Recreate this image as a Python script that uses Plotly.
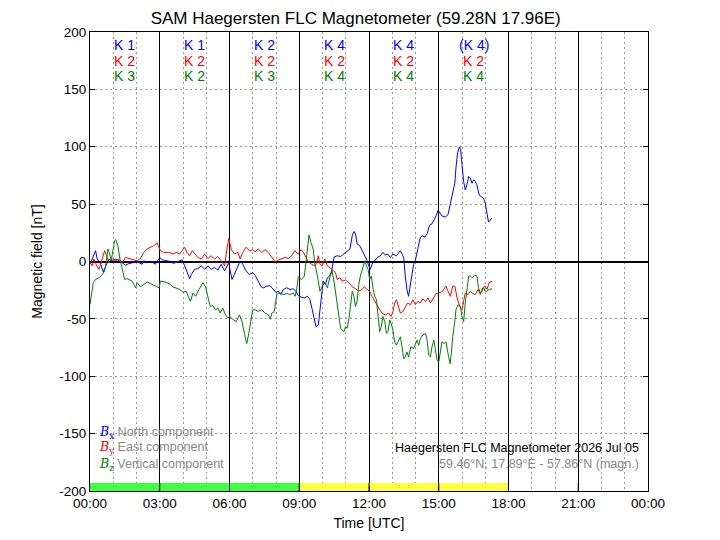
import plotly.graph_objects as go

# ---------------- data ----------------
title_text = "SAM Haegersten FLC Magnetometer (59.28N 17.96E)"

# North component Bx (hours UTC, nT)
tx = [0.00,0.24,0.31,0.46,0.57,0.67,0.81,0.96,1.10,1.31,1.53,1.67,1.89,2.03,2.24,2.31,2.46,2.67,2.81,2.89,
      3.00,3.10,3.31,3.46,3.57,3.71,3.86,3.97,4.07,4.17,4.29,4.36,4.50,4.64,4.79,4.93,5.07,5.21,5.36,5.50,
      5.64,5.79,5.89,5.97,6.03,6.11,6.21,6.36,6.46,6.57,6.71,6.86,7.00,7.10,7.24,7.36,7.46,7.60,7.74,7.89,
      7.99,8.10,8.21,8.31,8.46,8.60,8.74,8.86,8.96,9.07,9.21,9.36,9.46,9.56,9.65,9.72,9.82,9.89,9.96,10.03,
      10.13,10.21,10.31,10.39,10.50,10.63,10.78,10.92,11.06,11.18,11.28,11.35,11.42,11.49,11.60,11.70,11.80,11.89,11.99,12.06,
      12.13,12.23,12.35,12.49,12.60,12.70,12.80,12.92,13.03,13.18,13.28,13.35,13.42,13.49,13.56,13.63,13.70,13.78,13.85,13.92,
      13.99,14.07,14.14,14.21,14.29,14.40,14.50,14.60,14.71,14.83,14.90,14.97,15.04,15.14,15.29,15.40,15.50,15.60,15.69,15.74,
      15.81,15.89,15.94,16.00,16.07,16.14,16.21,16.29,16.36,16.43,16.50,16.57,16.64,16.74,16.83,16.93,17.00,17.07,17.14,17.21,17.29]
bx = [-2.4,9.4,2.1,-2.4,-9.1,-3.8,2.1,0.6,2.1,0.0,-3.2,-1.8,-0.9,-0.3,-2.4,0.6,-0.9,-0.3,-2.4,0.6,
      3.5,1.5,0.6,0.0,-1.5,-0.9,0.6,1.5,-3.8,-9.7,-15.0,-11.2,-6.8,-6.2,-3.8,-6.8,-3.8,-6.8,-5.3,-7.4,
      -2.4,-8.2,-3.8,-0.9,-8.2,-15.6,-11.2,-3.8,0.6,-2.4,-8.2,-11.2,-9.7,-12.0,-17.0,-22.0,-23.0,-21.5,-21.0,-24.4,
      -26.8,-25.9,-28.8,-24.4,-22.9,-24.4,-23.8,-25.9,-29.7,-30.9,-31.8,-30.3,-33.2,-42.0,-52.4,-56.8,-55.3,-42.0,-24.4,-17.0,
      -20.0,-14.1,-12.6,-8.2,4.0,5.0,4.4,6.5,9.4,10.9,22.6,26.2,24.1,15.3,13.8,9.4,6.5,2.1,-3.8,-6.8,
      -2.4,0.6,3.5,5.0,7.9,5.6,6.5,3.5,6.5,5.0,7.9,9.4,6.5,3.5,-12.6,-24.4,-30.3,-20.0,-8.2,-2.4,
      0.6,9.4,16.8,21.2,22.6,21.2,24.1,31.5,32.9,37.4,40.3,44.7,42.6,39.7,38.8,40.9,50.6,60.9,68.2,81.5,
      94.7,100.0,97.6,84.4,69.7,62.4,66.8,74.1,72.6,68.2,71.2,69.7,66.8,57.9,56.5,55.0,50.6,43.2,34.4,35.9,37.9]

# East component By
ty = [0.00,0.10,0.17,0.29,0.39,0.53,0.63,0.71,0.81,0.96,1.10,1.24,1.39,1.53,1.67,1.89,2.03,2.17,2.31,2.46,
      2.60,2.74,2.89,2.96,3.03,3.17,3.39,3.57,3.71,3.86,3.97,4.07,4.17,4.29,4.40,4.50,4.64,4.79,4.93,5.07,
      5.21,5.36,5.50,5.64,5.79,5.89,5.97,6.07,6.21,6.36,6.46,6.57,6.71,6.86,7.00,7.10,7.24,7.39,7.53,7.67,
      7.81,7.96,8.10,8.24,8.39,8.53,8.67,8.81,8.96,9.07,9.17,9.29,9.39,9.53,9.67,9.75,9.82,9.89,9.99,10.10,
      10.21,10.31,10.41,10.56,10.63,10.75,10.85,10.99,11.13,11.28,11.42,11.56,11.70,11.80,11.92,12.03,12.13,12.28,12.42,12.56,
      12.70,12.85,12.95,13.03,13.10,13.18,13.28,13.35,13.46,13.56,13.66,13.78,13.89,13.99,14.11,14.21,14.31,14.43,14.54,14.64,
      14.79,14.89,15.00,15.11,15.21,15.31,15.40,15.50,15.60,15.69,15.79,15.86,15.93,16.00,16.07,16.14,16.26,16.36,16.46,16.57,
      16.69,16.79,16.89,17.00,17.07,17.17,17.29]
by = [-0.9,-3.8,2.1,-3.8,-6.8,2.1,9.4,5.0,-0.9,2.1,0.6,2.1,-0.9,3.5,2.6,1.5,0.6,2.6,7.9,10.9,
      12.4,13.8,16.2,12.4,9.4,7.9,7.9,6.5,7.9,6.5,9.4,12.4,7.9,5.0,9.4,6.5,3.5,2.1,6.5,2.6,
      5.0,2.1,4.4,0.6,-3.8,10.9,20.3,10.9,6.5,7.9,2.1,7.9,12.4,9.4,10.3,8.5,10.9,7.9,10.3,7.9,
      3.5,-0.3,1.2,2.1,3.5,2.6,5.0,9.4,6.5,10.3,8.5,3.5,-0.3,-2.4,-3.8,-0.9,5.0,-2.4,-3.8,2.1,
      -3.8,-5.3,-6.8,-9.7,-15.6,-14.1,-17.1,-16.2,-18.5,-22.1,-23.8,-25.9,-24.4,-22.1,-24.4,-25.9,-30.3,-36.2,-40.6,-45.0,
      -46.5,-45.0,-47.9,-43.5,-36.2,-33.2,-39.1,-45.0,-43.5,-39.1,-36.2,-37.6,-33.2,-37.6,-34.7,-36.2,-32.6,-34.7,-31.8,-36.2,
      -31.8,-27.9,-27.4,-26.8,-24.4,-21.5,-25.9,-30.3,-21.5,-21.5,-31.8,-36.2,-40.6,-42.1,-33.2,-27.4,-28.8,-25.9,-27.9,-28.8,
      -24.4,-28.8,-22.9,-21.5,-24.4,-18.5,-17.1]

# Vertical component Bz
tz = [0.00,0.06,0.14,0.24,0.39,0.53,0.63,0.71,0.77,0.83,0.91,1.00,1.06,1.11,1.20,1.29,1.39,1.49,1.60,1.81,
      1.96,2.03,2.17,2.31,2.46,2.60,2.74,2.89,2.97,3.03,3.24,3.46,3.57,3.71,3.86,4.00,4.14,4.22,4.32,4.43,
      4.54,4.69,4.79,4.86,4.97,5.07,5.17,5.29,5.40,5.50,5.60,5.71,5.83,5.93,6.00,6.14,6.29,6.43,6.54,6.64,
      6.74,6.83,6.93,7.00,7.10,7.24,7.39,7.53,7.67,7.75,7.82,7.93,8.03,8.17,8.32,8.46,8.60,8.75,8.82,8.89,
      8.96,9.03,9.10,9.22,9.32,9.42,9.50,9.60,9.67,9.77,9.89,9.99,10.10,10.21,10.31,10.41,10.50,10.56,10.63,10.70,
      10.78,10.85,10.92,10.99,11.06,11.13,11.20,11.28,11.35,11.42,11.49,11.56,11.63,11.70,11.78,11.82,11.89,11.96,12.03,12.10,
      12.18,12.25,12.32,12.39,12.46,12.53,12.60,12.68,12.75,12.82,12.89,12.95,13.03,13.10,13.18,13.28,13.35,13.42,13.49,13.56,
      13.63,13.70,13.80,13.92,13.99,14.07,14.14,14.21,14.31,14.43,14.50,14.57,14.64,14.71,14.79,14.86,14.93,15.00,15.07,15.14,
      15.24,15.31,15.40,15.49,15.54,15.60,15.69,15.74,15.83,15.93,16.00,16.07,16.14,16.21,16.29,16.36,16.43,16.54,16.64,16.71,
      16.79,16.86,16.93,17.00,17.07,17.17,17.29]
bz = [-37.6,-30.3,-18.5,-15.6,-14.1,-11.2,-8.2,0.6,10.9,7.9,0.6,10.9,18.2,19.1,13.8,2.1,-6.8,-15.6,-15.0,-17.1,
      -22.9,-18.5,-22.1,-20.0,-17.9,-19.1,-20.9,-22.1,-22.9,-17.1,-17.9,-20.0,-22.1,-22.9,-24.4,-26.8,-25.9,-30.3,-34.7,-27.4,
      -30.3,-24.4,-20.9,-18.5,-22.1,-30.3,-39.1,-38.5,-42.1,-40.6,-45.0,-40.6,-46.5,-49.4,-47.9,-50.3,-52.4,-46.5,-52.4,-62.6,
      -71.5,-62.6,-49.4,-42.1,-42.1,-43.5,-42.1,-45.0,-46.5,-50.3,-45.0,-43.5,-28.8,-27.4,-28.8,-27.9,-28.8,-27.4,-30.3,-24.4,
      -13.2,-15.0,-15.6,-12.6,5.0,23.2,16.8,10.9,-2.4,-11.2,-25.9,-21.5,-18.5,-22.9,-14.1,-8.2,-18.0,-25.9,-36.2,-47.9,
      -58.2,-59.7,-61.2,-56.8,-58.2,-50.9,-39.1,-25.9,-30.3,-39.1,-34.7,-20.0,-12.6,-6.8,-0.9,0.6,-3.8,-6.8,-15.6,-12.6,
      -24.4,-30.3,-33.2,-46.5,-61.2,-56.8,-47.9,-52.4,-62.6,-61.2,-50.9,-53.8,-59.7,-70.0,-72.9,-68.5,-65.6,-74.4,-84.7,-83.2,
      -78.8,-83.2,-74.4,-75.9,-71.5,-68.5,-72.9,-67.1,-64.1,-62.6,-68.5,-81.8,-83.2,-74.4,-68.5,-75.9,-86.2,-87.6,-77.4,-70.0,
      -71.5,-70.0,-80.3,-89.1,-80.3,-65.6,-52.4,-42.1,-37.6,-39.1,-47.9,-52.4,-36.2,-22.9,-12.6,-12.6,-14.1,-12.1,-12.6,-22.9,
      -27.4,-25.9,-22.9,-25.9,-25.9,-24.4,-23.8]

# 3-hour blocks: K indices and activity bar
block_start = [0, 3, 6, 9, 12, 15]
k_x = ["K 1", "K 1", "K 2", "K 4", "K 4", "(K 4)"]
k_y = ["K 2", "K 2", "K 2", "K 2", "K 2", "K 2"]
k_z = ["K 3", "K 2", "K 3", "K 4", "K 4", "K 4"]
bar_colors = ["#40ff40", "#40ff40", "#40ff40", "#ffff40", "#ffff40", "#ffff40"]
bar_height = 7

x_tickvals = [0, 3, 6, 9, 12, 15, 18, 21, 24]
x_ticktext = ["00:00", "03:00", "06:00", "09:00", "12:00", "15:00", "18:00", "21:00", "00:00"]
y_tickvals = [-200, -150, -100, -50, 0, 50, 100, 150, 200]
y_ticktext = ["-200", "-150", "-100", "-50", "0", "50", "100", "150", "200"]

legend_names = ["North component", "East component", "Vertical component"]
legend_subs = ["x", "y", "z"]
info_line1 = "Haegersten FLC Magnetometer 2026 Jul 05"
info_line2 = "59.46°N, 17.89°E - 57.86°N (magn.)"

# ---------------- styles ----------------
c_x, c_y, c_z = "#0000ff", "#ff0000", "#008000"
font_main = "Liberation Sans, Arial, sans-serif"
grid_dot = "2px,3px"

fig = go.Figure()

fig.add_trace(go.Bar(x=block_start, y=[bar_height] * len(block_start), base=-200,
                     width=3, offset=0, marker=dict(color=bar_colors, line=dict(width=0)),
                     hoverinfo="skip", showlegend=False))

for t, v, c in [(tx, bx, c_x), (ty, by, c_y), (tz, bz, c_z)]:
    fig.add_trace(go.Scatter(x=t, y=v, mode="lines", line=dict(color=c, width=1),
                             showlegend=False, hoverinfo="skip"))

# vertical 3-hour lines drawn over the activity bar
for h in x_tickvals[1:-1]:
    fig.add_shape(type="line", xref="x", yref="y", x0=h, x1=h, y0=-200, y1=-200 + bar_height,
                  line=dict(color="black", width=1), layer="above")

# K index labels
rows = [(k_x, c_x, 0.972), (k_y, c_y, 0.937), (k_z, c_z, 0.904)]
for labels, col, yp in rows:
    for s, lab in zip(block_start, labels):
        fig.add_annotation(x=s + 1.5, y=yp, xref="x", yref="paper", text=lab, showarrow=False,
                           font=dict(color=col, size=14, family=font_main), xanchor="center", yanchor="middle")

# component legend (lower left)
for i, (name, sub, col) in enumerate(zip(legend_names, legend_subs, [c_x, c_y, c_z])):
    yp = [0.1285, 0.0937, 0.0588][i]
    txt = (f"<span style='font-family:DejaVu Serif;color:{col}'><i>B</i><sub>{sub}</sub></span>"
           f"<span style='color:#888888'> {name}</span>")
    fig.add_annotation(x=0.012, y=yp, xref="paper", yref="paper", text=txt, showarrow=False,
                       xanchor="left", yanchor="middle", font=dict(size=12.5, family=font_main))

fig.add_annotation(x=0.988, y=0.0937, xref="paper", yref="paper", text=info_line1, showarrow=False,
                   xanchor="right", yanchor="middle", font=dict(size=12.5, color="black", family=font_main))
fig.add_annotation(x=0.988, y=0.0588, xref="paper", yref="paper", text=info_line2, showarrow=False,
                   xanchor="right", yanchor="middle", font=dict(size=12.5, color="#888888", family=font_main))

fig.update_layout(
    width=720, height=540,
    margin=dict(l=90, r=72, t=32, b=49),
    paper_bgcolor="white", plot_bgcolor="white",
    font=dict(family=font_main, size=13, color="black"),
    title=dict(text=title_text, x=0.494, xanchor="center", y=0.967, yanchor="middle",
               font=dict(size=17, color="black", family=font_main)),
    barmode="overlay",
    showlegend=False,
)
fig.update_xaxes(range=[0, 24], tickvals=x_tickvals, ticktext=x_ticktext,
                 showgrid=True, gridcolor="black", gridwidth=1,
                 minor=dict(dtick=1, tick0=0, showgrid=True, gridcolor="#999999", griddash=grid_dot, gridwidth=1),
                 showline=True, linecolor="black", linewidth=1, mirror="ticks",
                 ticks="inside", ticklen=5, tickcolor="black",
                 title=dict(text="Time [UTC]", font=dict(size=14), standoff=7),
                 zeroline=False, tickfont=dict(size=13.5))
fig.update_yaxes(range=[-200, 200], tickvals=y_tickvals, ticktext=y_ticktext,
                 showgrid=True, gridcolor="#999999", griddash=grid_dot, gridwidth=1,
                 zeroline=True, zerolinecolor="black", zerolinewidth=1.5,
                 showline=True, linecolor="black", linewidth=1, mirror="ticks",
                 ticks="inside", ticklen=5, tickcolor="black",
                 title=dict(text="Magnetic field [nT]", font=dict(size=14), standoff=13),
                 tickfont=dict(size=13.5))

fig.write_html("out.html")
